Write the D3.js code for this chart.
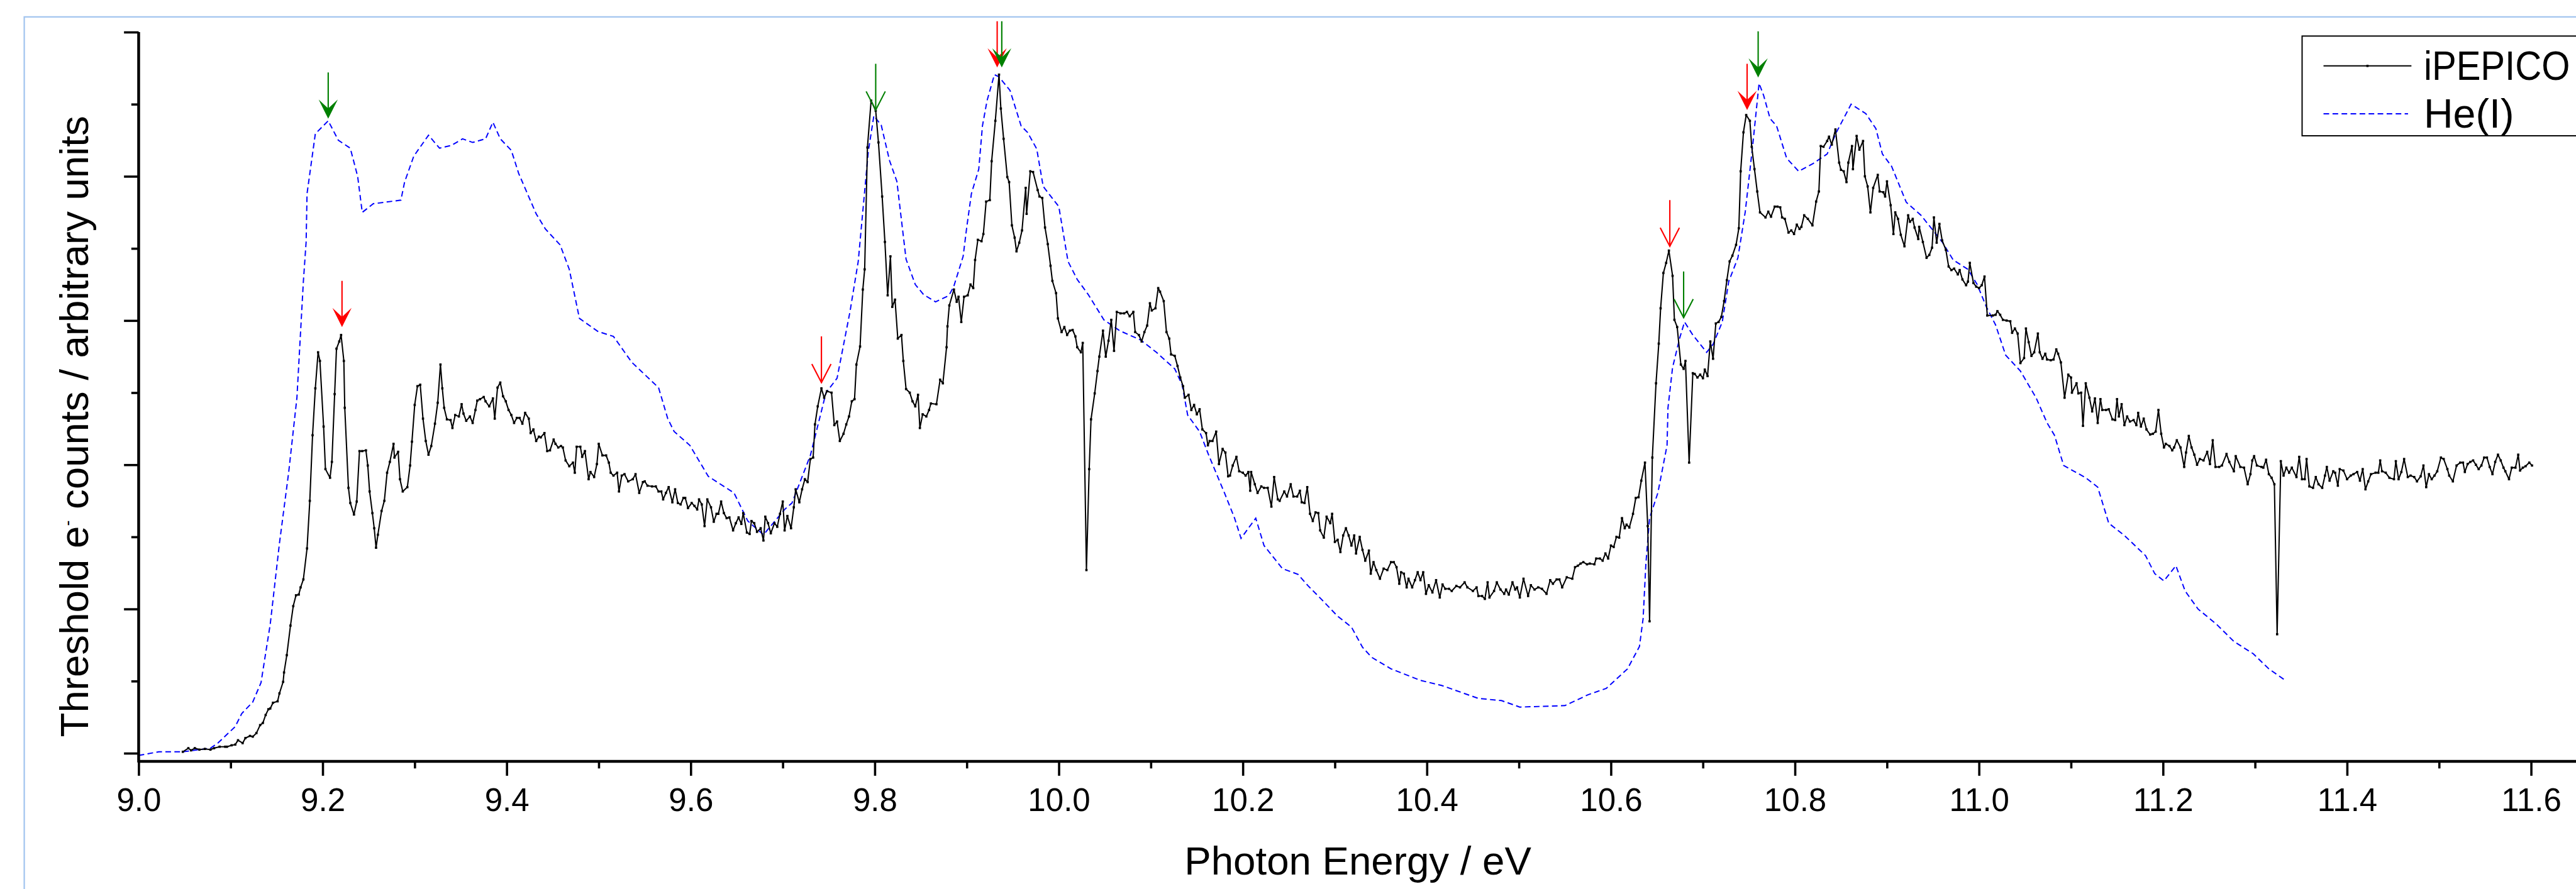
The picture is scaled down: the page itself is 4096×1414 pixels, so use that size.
<!DOCTYPE html>
<html>
<head>
<meta charset="utf-8">
<style>
  html, body { margin: 0; padding: 0; background: #fff; overflow: hidden; }
  svg { display: block; }
  text { font-family: "Liberation Sans", Arial, sans-serif; fill: #000; }
</style>
<script src="https://cdn.jsdelivr.net/npm/d3@7"></script>
</head>
<body>
<svg id="chart"></svg>
<script>
'use strict';

// photon energy (eV), threshold electron signal (arb. units, 0..10)
var ipepico = [
  [9.048,0.02],[9.054,0.07],[9.057,0.04],[9.061,0.07],[9.066,0.05],[9.072,0.06],[9.078,0.05],[9.082,0.07],[9.088,0.09],[9.094,0.09],
  [9.096,0.09],[9.101,0.11],[9.105,0.12],[9.108,0.18],[9.113,0.14],[9.116,0.21],[9.121,0.24],[9.124,0.23],[9.128,0.28],[9.132,0.39],
  [9.135,0.42],[9.138,0.53],[9.141,0.61],[9.143,0.62],[9.146,0.70],[9.151,0.72],[9.153,0.83],[9.157,0.99],[9.158,1.12],[9.161,1.36],
  [9.165,1.77],[9.168,2.04],[9.171,2.19],[9.174,2.20],[9.176,2.30],[9.179,2.41],[9.183,2.84],[9.186,3.50],[9.189,4.41],[9.192,5.06],
  [9.195,5.56],[9.197,5.44],[9.201,4.53],[9.203,3.94],[9.208,3.82],[9.210,4.04],[9.213,4.98],[9.215,5.61],[9.218,5.71],[9.220,5.80],
  [9.223,5.44],[9.224,4.79],[9.228,3.68],[9.230,3.47],[9.234,3.31],[9.237,3.49],[9.240,4.19],[9.243,4.19],[9.247,4.20],[9.249,3.99],
  [9.251,3.63],[9.254,3.33],[9.256,3.12],[9.258,2.85],[9.260,3.03],[9.264,3.36],[9.267,3.50],[9.270,3.89],[9.273,4.04],[9.277,4.29],
  [9.278,4.10],[9.282,4.18],[9.284,3.80],[9.287,3.63],[9.292,3.69],[9.295,3.99],[9.297,4.32],[9.300,4.83],[9.303,5.09],[9.306,5.11],
  [9.309,4.64],[9.312,4.33],[9.315,4.14],[9.318,4.26],[9.322,4.57],[9.325,4.86],[9.328,5.39],[9.330,5.06],[9.332,4.79],[9.335,4.63],
  [9.339,4.62],[9.341,4.51],[9.344,4.69],[9.348,4.67],[9.351,4.84],[9.353,4.71],[9.356,4.61],[9.360,4.67],[9.363,4.58],[9.366,4.76],
  [9.368,4.89],[9.371,4.91],[9.375,4.94],[9.377,4.88],[9.381,4.81],[9.385,4.92],[9.387,4.64],[9.390,5.07],[9.393,5.14],[9.396,4.95],
  [9.399,4.88],[9.402,4.76],[9.405,4.69],[9.408,4.58],[9.411,4.65],[9.414,4.65],[9.417,4.57],[9.420,4.72],[9.424,4.64],[9.426,4.44],
  [9.429,4.49],[9.432,4.33],[9.435,4.39],[9.437,4.38],[9.441,4.44],[9.444,4.19],[9.447,4.20],[9.451,4.35],[9.453,4.29],[9.456,4.24],
  [9.459,4.26],[9.461,4.24],[9.464,4.06],[9.468,3.98],[9.472,4.03],[9.474,3.89],[9.476,4.25],[9.480,4.25],[9.482,4.11],[9.485,4.19],
  [9.489,3.80],[9.491,3.90],[9.495,3.83],[9.498,4.01],[9.500,4.29],[9.504,4.13],[9.508,4.13],[9.511,4.03],[9.513,3.89],[9.516,3.85],
  [9.520,3.89],[9.522,3.63],[9.525,3.85],[9.528,3.87],[9.532,3.77],[9.537,3.80],[9.540,3.87],[9.544,3.61],[9.548,3.76],[9.550,3.77],
  [9.553,3.71],[9.558,3.70],[9.562,3.70],[9.565,3.63],[9.568,3.63],[9.570,3.52],[9.573,3.61],[9.576,3.69],[9.580,3.48],[9.583,3.66],
  [9.586,3.47],[9.589,3.45],[9.592,3.54],[9.594,3.54],[9.597,3.40],[9.601,3.47],[9.604,3.43],[9.607,3.38],[9.609,3.52],[9.612,3.45],
  [9.615,3.15],[9.618,3.52],[9.622,3.41],[9.625,3.21],[9.628,3.32],[9.630,3.32],[9.633,3.49],[9.636,3.33],[9.639,3.26],[9.642,3.27],
  [9.646,3.09],[9.649,3.19],[9.652,3.27],[9.655,3.18],[9.657,3.33],[9.661,3.06],[9.664,3.04],[9.666,3.22],[9.669,3.19],[9.672,3.07],
  [9.676,3.12],[9.679,2.95],[9.681,3.28],[9.684,3.19],[9.687,3.05],[9.691,3.19],[9.694,3.14],[9.697,3.32],[9.700,3.49],[9.702,3.09],
  [9.705,3.29],[9.709,3.12],[9.712,3.41],[9.714,3.66],[9.718,3.48],[9.721,3.66],[9.724,3.80],[9.727,3.76],[9.730,4.08],[9.733,4.10],
  [9.735,4.56],[9.738,4.81],[9.742,5.06],[9.745,4.93],[9.748,5.02],[9.753,5.00],[9.756,4.55],[9.759,4.60],[9.762,4.33],[9.766,4.43],
  [9.769,4.56],[9.772,4.67],[9.775,4.88],[9.778,4.91],[9.780,5.39],[9.784,5.64],[9.787,6.43],[9.789,6.71],[9.792,8.40],[9.796,9.05],
  [9.801,8.91],[9.804,8.47],[9.808,7.72],[9.811,7.09],[9.814,6.35],[9.817,6.89],[9.819,6.19],[9.822,6.29],[9.825,5.75],[9.829,5.80],
  [9.831,5.44],[9.834,5.05],[9.838,5.00],[9.841,4.88],[9.844,4.81],[9.847,4.97],[9.849,4.51],[9.852,4.70],[9.856,4.67],[9.859,4.76],
  [9.861,4.85],[9.867,4.84],[9.871,5.18],[9.874,5.13],[9.878,5.63],[9.879,5.92],[9.881,6.21],[9.886,6.43],[9.889,6.26],[9.891,6.33],
  [9.894,5.98],[9.897,6.33],[9.901,6.35],[9.904,6.50],[9.907,6.45],[9.909,6.84],[9.912,7.12],[9.916,7.10],[9.918,7.20],[9.921,7.65],
  [9.925,7.67],[9.927,8.21],[9.931,8.77],[9.935,9.41],[9.937,8.94],[9.940,8.52],[9.944,7.99],[9.946,7.92],[9.949,7.32],[9.952,7.15],
  [9.954,6.96],[9.957,7.08],[9.960,7.25],[9.964,7.84],[9.965,7.48],[9.969,8.07],[9.972,8.06],[9.977,7.81],[9.979,7.72],[9.982,7.70],
  [9.985,7.29],[9.988,7.06],[9.991,6.76],[9.993,6.55],[9.997,6.38],[9.999,6.03],[10.003,5.84],[10.006,5.91],[10.009,5.80],[10.012,5.86],
  [10.015,5.87],[10.018,5.78],[10.020,5.63],[10.024,5.56],[10.026,5.69],[10.030,2.54],[10.033,3.94],[10.035,4.63],[10.039,4.99],[10.042,5.30],
  [10.044,5.50],[10.048,5.86],[10.051,5.50],[10.054,5.72],[10.057,6.01],[10.060,5.58],[10.063,6.12],[10.067,6.10],[10.071,6.10],[10.074,6.12],
  [10.077,6.06],[10.081,6.12],[10.083,5.84],[10.087,5.80],[10.090,5.71],[10.093,5.84],[10.096,5.93],[10.099,6.24],[10.101,6.14],[10.105,6.17],
  [10.108,6.45],[10.110,6.40],[10.114,6.27],[10.117,5.84],[10.120,5.75],[10.122,5.53],[10.126,5.51],[10.129,5.37],[10.132,5.21],[10.135,5.09],
  [10.137,4.93],[10.141,4.97],[10.144,4.76],[10.147,4.83],[10.150,4.70],[10.153,4.77],[10.156,4.49],[10.160,4.44],[10.162,4.27],[10.164,4.33],
  [10.167,4.33],[10.171,4.46],[10.174,4.01],[10.178,4.22],[10.181,4.17],[10.184,3.84],[10.186,3.85],[10.189,3.99],[10.193,4.11],[10.196,3.91],
  [10.200,3.89],[10.203,3.85],[10.206,3.90],[10.208,3.64],[10.209,3.90],[10.213,3.73],[10.216,3.61],[10.220,3.70],[10.223,3.68],[10.227,3.68],
  [10.231,3.42],[10.234,3.83],[10.238,3.52],[10.240,3.50],[10.245,3.63],[10.248,3.56],[10.252,3.73],[10.255,3.56],[10.259,3.56],[10.262,3.64],
  [10.264,3.48],[10.267,3.47],[10.270,3.69],[10.273,3.32],[10.276,3.22],[10.279,3.34],[10.282,3.33],[10.284,3.09],[10.288,2.99],[10.291,3.28],
  [10.295,3.19],[10.297,3.32],[10.300,2.93],[10.303,2.96],[10.306,2.79],[10.309,3.02],[10.312,3.12],[10.315,3.02],[10.318,2.88],[10.321,3.02],
  [10.323,2.77],[10.327,3.00],[10.330,2.82],[10.333,2.67],[10.337,2.81],[10.339,2.49],[10.342,2.65],[10.345,2.54],[10.349,2.42],[10.353,2.56],
  [10.357,2.54],[10.361,2.65],[10.364,2.65],[10.367,2.58],[10.370,2.35],[10.372,2.51],[10.375,2.49],[10.378,2.30],[10.380,2.42],[10.384,2.30],
  [10.387,2.40],[10.390,2.51],[10.393,2.40],[10.396,2.51],[10.399,2.21],[10.402,2.33],[10.406,2.23],[10.410,2.40],[10.414,2.16],[10.417,2.34],
  [10.420,2.28],[10.424,2.28],[10.427,2.25],[10.432,2.32],[10.436,2.30],[10.441,2.37],[10.444,2.30],[10.450,2.25],[10.454,2.30],[10.456,2.18],
  [10.460,2.18],[10.463,2.14],[10.466,2.37],[10.468,2.16],[10.473,2.25],[10.476,2.37],[10.480,2.27],[10.484,2.21],[10.486,2.27],[10.489,2.20],
  [10.493,2.37],[10.496,2.27],[10.498,2.30],[10.501,2.16],[10.505,2.42],[10.510,2.18],[10.513,2.33],[10.517,2.27],[10.521,2.30],[10.525,2.28],
  [10.530,2.21],[10.534,2.40],[10.537,2.35],[10.541,2.41],[10.544,2.41],[10.547,2.30],[10.552,2.44],[10.558,2.42],[10.561,2.58],[10.564,2.60],
  [10.567,2.63],[10.570,2.65],[10.574,2.62],[10.577,2.63],[10.582,2.62],[10.584,2.70],[10.588,2.70],[10.591,2.67],[10.594,2.77],[10.597,2.70],
  [10.600,2.88],[10.603,2.86],[10.606,3.00],[10.609,2.99],[10.612,3.26],[10.615,3.12],[10.617,3.17],[10.620,3.13],[10.624,3.32],[10.627,3.54],
  [10.630,3.55],[10.633,3.78],[10.637,4.03],[10.640,3.15],[10.642,1.83],[10.645,4.10],[10.649,5.13],[10.652,5.68],[10.654,6.17],[10.657,6.66],
  [10.660,6.80],[10.663,6.97],[10.667,6.62],[10.669,6.01],[10.672,5.91],[10.676,5.39],[10.679,5.33],[10.681,5.44],[10.685,4.03],[10.689,5.27],
  [10.691,5.26],[10.694,5.21],[10.697,5.25],[10.700,5.20],[10.702,5.32],[10.705,5.23],[10.708,5.71],[10.711,5.47],[10.714,5.96],[10.717,5.98],
  [10.720,6.05],[10.723,6.27],[10.726,6.56],[10.729,6.82],[10.732,6.90],[10.736,7.05],[10.739,7.28],[10.741,8.07],[10.744,8.61],[10.747,8.85],
  [10.751,8.77],[10.753,8.41],[10.756,8.10],[10.759,7.79],[10.762,7.50],[10.768,7.43],[10.771,7.51],[10.774,7.44],[10.778,7.58],[10.781,7.58],
  [10.784,7.57],[10.786,7.43],[10.789,7.41],[10.793,7.22],[10.796,7.25],[10.799,7.20],[10.802,7.33],[10.805,7.27],[10.807,7.30],[10.810,7.46],
  [10.814,7.41],[10.819,7.32],[10.823,7.65],[10.826,7.79],[10.828,8.42],[10.831,8.41],[10.835,8.49],[10.837,8.55],[10.840,8.44],[10.844,8.65],
  [10.848,8.19],[10.850,8.09],[10.853,8.07],[10.856,7.92],[10.858,8.19],[10.862,8.42],[10.863,8.10],[10.867,8.56],[10.870,8.37],[10.874,8.49],
  [10.876,8.00],[10.879,7.86],[10.882,7.50],[10.885,7.84],[10.890,8.02],[10.892,7.79],[10.896,7.78],[10.898,7.72],[10.900,7.93],[10.904,7.60],
  [10.907,7.20],[10.909,7.50],[10.912,7.41],[10.915,7.19],[10.919,7.03],[10.923,7.46],[10.925,7.37],[10.928,7.41],[10.930,7.29],[10.934,7.13],
  [10.935,7.30],[10.939,7.09],[10.943,6.87],[10.946,6.91],[10.949,7.01],[10.951,7.43],[10.954,7.08],[10.957,7.34],[10.960,7.11],[10.964,6.98],
  [10.967,6.75],[10.970,6.70],[10.973,6.72],[10.977,6.64],[10.979,6.70],[10.982,6.57],[10.986,6.49],[10.988,6.54],[10.990,6.80],[10.994,6.52],
  [10.997,6.47],[11.000,6.45],[11.003,6.49],[11.006,6.61],[11.009,6.07],[11.015,6.07],[11.018,6.08],[11.020,6.13],[11.023,6.08],[11.026,6.01],
  [11.030,6.00],[11.034,5.99],[11.036,5.83],[11.039,5.89],[11.042,5.82],[11.045,5.41],[11.049,5.48],[11.051,5.89],[11.054,5.70],[11.057,5.51],
  [11.060,5.56],[11.064,5.82],[11.066,5.56],[11.069,5.47],[11.072,5.54],[11.074,5.46],[11.078,5.45],[11.081,5.46],[11.084,5.60],[11.086,5.54],
  [11.089,5.42],[11.093,4.93],[11.097,5.25],[11.100,5.21],[11.101,5.00],[11.106,5.13],[11.108,4.99],[11.111,5.00],[11.113,4.54],[11.116,5.13],
  [11.120,4.93],[11.123,4.74],[11.126,4.92],[11.129,4.58],[11.132,4.91],[11.134,4.76],[11.138,4.76],[11.141,4.77],[11.145,4.63],[11.148,4.62],
  [11.150,4.91],[11.152,4.67],[11.155,4.84],[11.158,4.55],[11.161,4.67],[11.164,4.60],[11.168,4.62],[11.171,4.55],[11.173,4.72],[11.176,4.53],
  [11.179,4.64],[11.182,4.49],[11.186,4.42],[11.189,4.43],[11.192,4.46],[11.195,4.76],[11.198,4.43],[11.201,4.24],[11.203,4.29],[11.207,4.26],
  [11.210,4.20],[11.212,4.24],[11.215,4.34],[11.219,4.24],[11.223,3.97],[11.225,4.17],[11.228,4.40],[11.231,4.24],[11.234,4.14],[11.237,4.00],
  [11.240,4.08],[11.244,4.06],[11.248,4.18],[11.251,4.01],[11.254,4.34],[11.257,3.97],[11.261,3.97],[11.264,3.99],[11.269,4.15],[11.272,4.04],
  [11.277,3.91],[11.279,4.12],[11.284,3.97],[11.288,3.96],[11.292,3.73],[11.295,3.87],[11.297,4.06],[11.299,4.12],[11.302,3.99],[11.307,3.97],
  [11.309,3.96],[11.312,4.07],[11.315,3.87],[11.318,3.82],[11.321,3.73],[11.324,1.65],[11.328,4.05],[11.331,3.85],[11.334,3.96],[11.337,3.89],
  [11.340,3.96],[11.345,3.83],[11.348,4.11],[11.351,3.80],[11.354,3.80],[11.356,4.08],[11.359,3.70],[11.363,3.68],[11.366,3.83],[11.369,3.73],
  [11.373,3.68],[11.376,3.85],[11.378,3.97],[11.381,3.78],[11.385,3.91],[11.387,3.89],[11.390,3.71],[11.392,3.94],[11.396,3.92],[11.400,3.80],
  [11.404,3.85],[11.407,3.87],[11.411,3.90],[11.414,3.78],[11.417,3.94],[11.420,3.66],[11.423,3.77],[11.426,3.87],[11.431,3.89],[11.434,3.89],
  [11.436,4.06],[11.438,3.91],[11.442,3.89],[11.446,3.82],[11.451,3.80],[11.453,4.05],[11.456,3.80],[11.459,3.90],[11.462,4.08],[11.466,3.83],
  [11.469,3.85],[11.473,3.83],[11.476,3.77],[11.480,3.84],[11.483,3.99],[11.486,3.69],[11.489,3.87],[11.492,3.80],[11.495,3.85],[11.498,3.91],
  [11.502,4.10],[11.505,4.08],[11.509,3.94],[11.511,3.85],[11.515,3.77],[11.519,3.99],[11.523,4.03],[11.526,4.03],[11.528,3.90],[11.531,4.01],
  [11.534,4.04],[11.537,4.06],[11.540,4.00],[11.543,3.94],[11.546,3.99],[11.549,4.10],[11.552,4.10],[11.555,3.97],[11.558,3.87],[11.561,4.04],
  [11.564,4.14],[11.567,4.06],[11.570,3.96],[11.572,3.91],[11.576,3.80],[11.579,3.96],[11.583,3.96],[11.586,4.14],[11.588,3.92],[11.591,3.96],
  [11.594,3.98],[11.598,4.03],[11.601,3.99]
];

var heI = [
  [9.000,-0.03],[9.022,0.02],[9.048,0.02],[9.078,0.07],[9.086,0.14],[9.105,0.37],[9.112,0.55],[9.124,0.71],[9.133,0.98],[9.143,1.79],
  [9.153,2.91],[9.163,3.89],[9.172,4.93],[9.179,6.54],[9.182,7.09],[9.183,7.76],[9.192,8.59],[9.206,8.77],[9.217,8.50],[9.230,8.39],
  [9.238,8.00],[9.243,7.50],[9.255,7.62],[9.285,7.67],[9.289,7.92],[9.299,8.28],[9.315,8.57],[9.327,8.39],[9.340,8.43],[9.352,8.52],
  [9.363,8.47],[9.377,8.52],[9.385,8.75],[9.393,8.52],[9.405,8.36],[9.413,8.04],[9.432,7.48],[9.442,7.27],[9.458,7.05],[9.468,6.71],
  [9.479,6.03],[9.499,5.85],[9.516,5.78],[9.536,5.42],[9.565,5.07],[9.575,4.64],[9.582,4.46],[9.599,4.27],[9.619,3.84],[9.647,3.61],
  [9.662,3.22],[9.679,3.03],[9.702,3.38],[9.710,3.47],[9.730,4.13],[9.747,5.00],[9.759,5.20],[9.773,6.12],[9.782,6.82],[9.793,8.35],
  [9.799,8.84],[9.807,8.71],[9.816,8.22],[9.824,7.93],[9.834,6.85],[9.844,6.50],[9.853,6.36],[9.866,6.26],[9.878,6.33],[9.882,6.38],
  [9.886,6.48],[9.896,6.89],[9.900,7.30],[9.905,7.76],[9.913,8.10],[9.917,8.70],[9.922,9.05],[9.930,9.41],[9.935,9.38],[9.947,9.19],
  [9.959,8.70],[9.966,8.61],[9.976,8.38],[9.983,7.86],[10.000,7.58],[10.010,6.82],[10.020,6.57],[10.032,6.36],[10.049,6.01],[10.066,5.86],
  [10.089,5.73],[10.106,5.56],[10.126,5.33],[10.134,5.11],[10.140,4.69],[10.153,4.46],[10.163,4.13],[10.180,3.61],[10.191,3.26],[10.198,2.98],
  [10.214,3.26],[10.223,2.88],[10.243,2.56],[10.260,2.48],[10.271,2.32],[10.285,2.14],[10.303,1.90],[10.318,1.75],[10.330,1.47],[10.340,1.33],
  [10.361,1.17],[10.393,1.01],[10.416,0.94],[10.456,0.76],[10.481,0.73],[10.501,0.64],[10.550,0.66],[10.575,0.81],[10.595,0.90],[10.618,1.17],
  [10.631,1.48],[10.635,1.87],[10.638,2.63],[10.642,3.26],[10.651,3.61],[10.661,4.27],[10.662,4.79],[10.667,5.35],[10.675,5.77],[10.680,5.98],
  [10.689,5.80],[10.704,5.56],[10.711,5.67],[10.721,5.98],[10.728,6.54],[10.738,6.87],[10.746,7.51],[10.754,8.42],[10.761,9.29],[10.766,9.12],
  [10.773,8.80],[10.780,8.70],[10.791,8.25],[10.804,8.07],[10.820,8.18],[10.835,8.31],[10.845,8.61],[10.861,9.00],[10.877,8.87],[10.888,8.66],
  [10.895,8.31],[10.905,8.14],[10.921,7.64],[10.937,7.46],[10.960,7.09],[10.972,6.84],[10.988,6.71],[10.998,6.50],[11.008,6.19],[11.018,5.94],
  [11.029,5.52],[11.045,5.30],[11.062,4.93],[11.074,4.58],[11.082,4.41],[11.092,3.99],[11.116,3.82],[11.129,3.69],[11.141,3.19],[11.158,3.02],
  [11.181,2.74],[11.191,2.49],[11.201,2.39],[11.214,2.60],[11.224,2.25],[11.238,2.00],[11.258,1.79],[11.277,1.55],[11.298,1.38],[11.315,1.17],
  [11.333,1.01]
];

// marked features: energy, intensity at arrow tip, colour, head style
var arrowEnergy = [9.206, 9.221, 9.742, 9.801, 9.933, 9.938, 10.664, 10.679, 10.748, 10.760];
var arrowTip    = [8.80, 5.91, 5.14, 8.92, 9.51, 9.51, 7.03, 6.04, 8.92, 9.37];
var arrowColour = ["green", "red", "red", "green", "red", "green", "red", "green", "red", "green"];
var arrowFilled = [true, true, false, false, true, true, false, false, true, true];

var xMajor = [9.0, 9.2, 9.4, 9.6, 9.8, 10.0, 10.2, 10.4, 10.6, 10.8, 11.0, 11.2, 11.4, 11.6];
var xMinor = [9.1, 9.3, 9.5, 9.7, 9.9, 10.1, 10.3, 10.5, 10.7, 10.9, 11.1, 11.3, 11.5];
var yMajor = [0, 2, 4, 6, 8, 10];
var yMinor = [1, 3, 5, 7, 9];
var seriesNames = ["iPEPICO", "He(I)"];

var W = 4571, H = 1578;   // reference size; shown at 0.896
var colours = { red: "#ff0000", green: "#008000" };

var svg = d3.select("#chart")
    .attr("width", 4096).attr("height", 1414)
    .attr("viewBox", "0 0 " + W + " " + H);

var x = d3.scaleLinear().domain([9, 11.65]).range([246, 4573]),
    y = d3.scaleLinear().domain([0, 10]).range([1337, 57]),
    axisY = 1351;

// light blue page frame
svg.append("rect")
    .attr("x", 43).attr("y", 30).attr("width", W).attr("height", H)
    .attr("fill", "none").attr("stroke", "#a3c5ef").attr("stroke-width", 2.5);

// He(I) dashed line
var line = d3.line().x(function(d){return x(d[0]);}).y(function(d){return y(d[1]);});

svg.append("path").datum(heI)
    .attr("d", line)
    .attr("fill", "none").attr("stroke", "#0000ff")
    .attr("stroke-width", 2.2).attr("stroke-dasharray", "10,6");

// iPEPICO line with small square markers
svg.append("path").datum(ipepico)
    .attr("d", line)
    .attr("fill", "none").attr("stroke", "#000")
    .attr("stroke-width", 2.3).attr("stroke-linejoin", "round");

svg.append("g").selectAll("rect").data(ipepico).enter().append("rect")
    .attr("x", function(d){return x(d[0]) - 2;})
    .attr("y", function(d){return y(d[1]) - 2;})
    .attr("width", 4).attr("height", 4).attr("fill", "#000");

// axes
var gx = svg.append("g").attr("transform", "translate(0," + axisY + ")");
gx.call(d3.axisBottom(x).tickValues(xMajor).tickSize(26).tickSizeOuter(0)
        .tickPadding(22).tickFormat(d3.format(".1f")));
gx.append("g").call(d3.axisBottom(x).tickValues(xMinor).tickSize(13).tickFormat(""))
    .select(".domain").remove();
gx.selectAll(".tick line").attr("stroke", "#000").attr("stroke-width", 4);
gx.selectAll(".tick text").attr("font-size", 57)
    .attr("font-family", "'Liberation Sans', Arial, sans-serif").attr("fill", "#000");
gx.select(".domain").attr("stroke", "#000").attr("stroke-width", 5);

var gy = svg.append("g").attr("transform", "translate(" + x(9) + ",0)");
gy.call(d3.axisLeft(y).tickValues(yMajor).tickSize(26).tickSizeOuter(0).tickFormat(""));
gy.append("g").call(d3.axisLeft(y).tickValues(yMinor).tickSize(13).tickFormat(""))
    .select(".domain").remove();
gy.select(".domain").remove();
gy.selectAll(".tick line").attr("stroke", "#000").attr("stroke-width", 4);
gy.append("line")
    .attr("x1", 0).attr("x2", 0).attr("y1", y(10)).attr("y2", axisY + 2.5)
    .attr("stroke", "#000").attr("stroke-width", 5);

// axis titles
svg.append("text")
    .attr("x", (x.range()[0] + x.range()[1]) / 2).attr("y", 1552)
    .attr("text-anchor", "middle").attr("font-size", 71)
    .text("Photon Energy / eV");

var yl = svg.append("text")
    .attr("transform", "translate(156,757) rotate(-90)")
    .attr("text-anchor", "middle").attr("font-size", 71);
yl.append("tspan").text("Threshold e");
yl.append("tspan").attr("font-size", 30).attr("dy", -27).text("-");
yl.append("tspan").attr("dy", 27).text(" counts / arbitrary units");

// arrows marking features
var ag = svg.append("g");
arrowEnergy.forEach(function(e, i){
    var ax = x(e), ty = y(arrowTip[i]), c = colours[arrowColour[i]];
    ag.append("line")
        .attr("x1", ax).attr("x2", ax).attr("y1", ty - 82).attr("y2", arrowFilled[i] ? ty - 14 : ty)
        .attr("stroke", c).attr("stroke-width", 2.4);
    if (arrowFilled[i]) {
        ag.append("path")
            .attr("d", "M" + ax + "," + ty + "L" + (ax - 17) + "," + (ty - 34) +
                       "L" + ax + "," + (ty - 18) + "L" + (ax + 17) + "," + (ty - 34) + "Z")
            .attr("fill", c);
    } else {
        ag.append("path")
            .attr("d", "M" + (ax - 17) + "," + (ty - 33) + "L" + ax + "," + ty + "L" + (ax + 17) + "," + (ty - 33))
            .attr("fill", "none").attr("stroke", c).attr("stroke-width", 2.4);
    }
});

// legend (box runs past the right edge, as in the original)
var lg = svg.append("g");
lg.append("rect")
    .attr("x", 4085).attr("y", 64).attr("width", 700).attr("height", 177)
    .attr("fill", "#fff").attr("stroke", "#000").attr("stroke-width", 2.2);
lg.append("line").attr("x1", 4123).attr("x2", 4279).attr("y1", 117).attr("y2", 117)
    .attr("stroke", "#000").attr("stroke-width", 2.3);
lg.append("rect").attr("x", 4199).attr("y", 115).attr("width", 4).attr("height", 4).attr("fill", "#000");
lg.append("line").attr("x1", 4123).attr("x2", 4273).attr("y1", 202).attr("y2", 202)
    .attr("stroke", "#0000ff").attr("stroke-width", 2.2).attr("stroke-dasharray", "10,6");
// first label squeezed a little so that it stays inside the page
lg.selectAll("text.lab").data(seriesNames).enter().append("text")
    .attr("class", "lab")
    .attr("transform", function(d, i){
        return i ? "translate(4301,226)" : "translate(4301,142) scale(0.9,1)";
    })
    .attr("font-size", 72)
    .text(function(d){return d;});
</script>
</body>
</html>
